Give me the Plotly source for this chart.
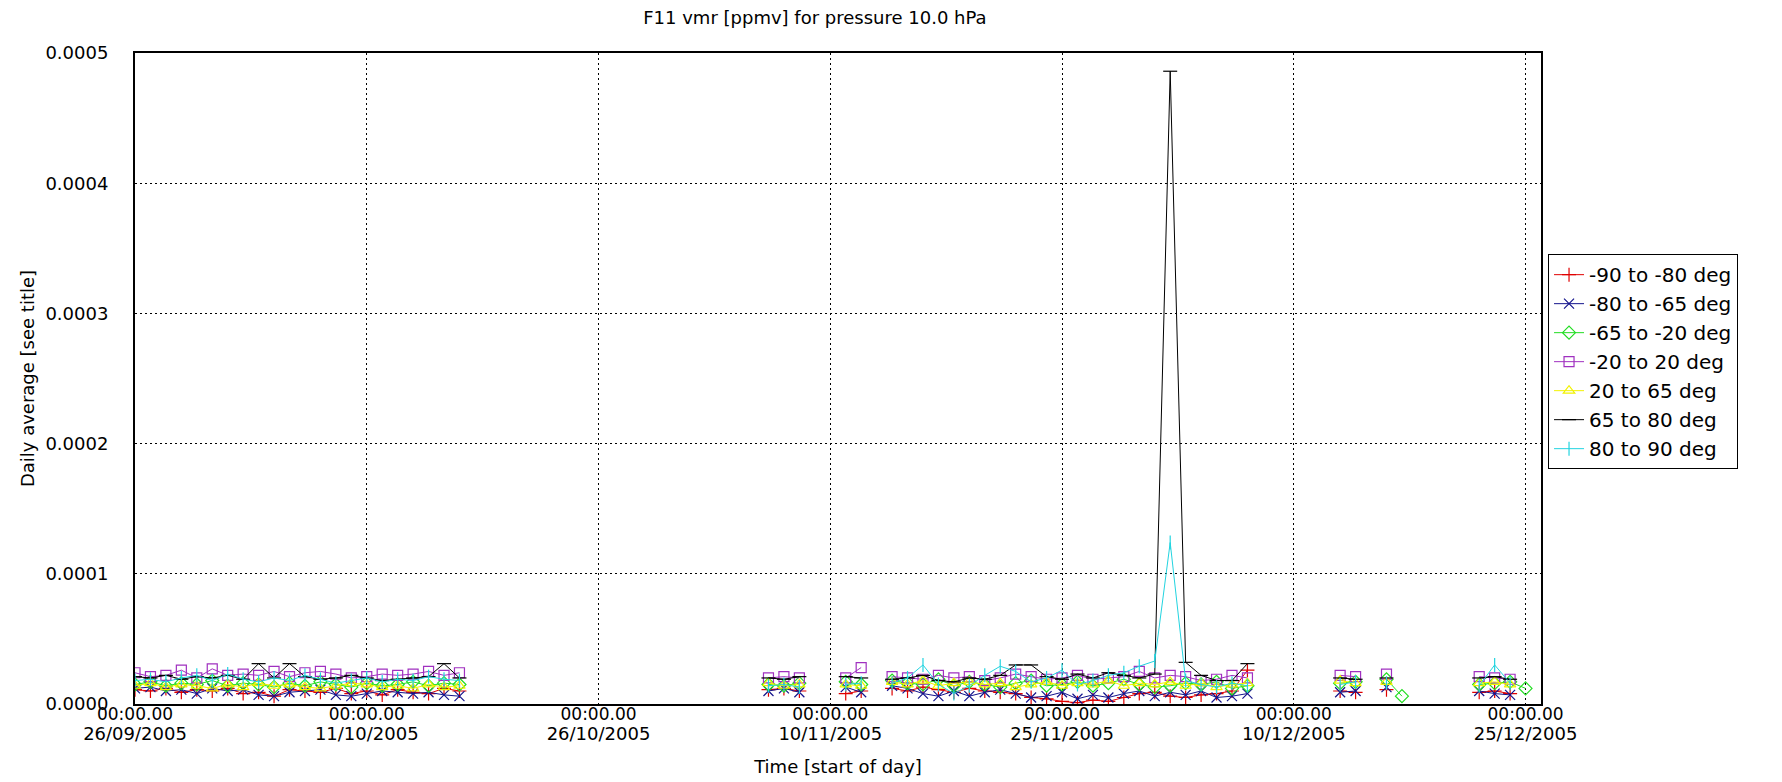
import pandas as pd
import plotly.graph_objects as go

start_day = "2005-09-26"

# days since 26/09/2005; the rows at 30, 44, 48, 75, 80, 85 are breaks (no data)
day_offsets = [0, 1, 2, 3, 4, 5, 6, 7, 8, 9, 10, 11, 12, 13, 14, 15, 16, 17, 18, 19, 20, 21,
               30,
               41, 42, 43,
               44,
               46, 47,
               48,
               49, 50, 51, 52, 53, 54, 55, 56, 57, 58, 59, 60, 61, 62, 63, 64, 65, 66, 67, 68, 69, 70, 71, 72,
               75,
               78, 79,
               80,
               81, 82,
               85,
               87, 88, 89, 90]

# daily averages in units of 1e-5 ppmv
red = [1.1, 1.0, 1.2, 0.9, 1.1, 1.0, 1.2, 0.8, 0.9, 0.6, 1.1, 1.0, 0.9, 1.2, 0.8, 1.0, 0.7, 1.1, 0.9, 0.8, 1.2, 1.0,
       None,
       1.1, 1.2, 1.0,
       None,
       0.8, 1.0,
       None,
       1.2, 1.0, 1.3, 1.1, 0.9, 1.2, 1.0, 0.9, 0.8, 0.5, 0.4, 0.2, 0.1, 0.3, 0.2, 0.5, 0.8, 0.9, 0.6, 0.5, 0.7, 0.8, 1.0, 2.6,
       None,
       1.0, 0.9,
       None,
       1.1, None,
       None,
       0.9, 1.0, 0.8, None]

navy = [1.2, 1.3, 1.0, 1.1, 0.8, 1.2, 1.0, 1.1, 0.7, 0.6, 0.9, 1.0, 1.1, 0.7, 0.6, 0.8, 1.0, 0.9, 0.8, 0.9, 0.7, 0.6,
        None,
        1.0, 1.2, 0.9,
        None,
        1.3, 0.9,
        None,
        1.4, 1.2, 0.8, 0.6, 1.0, 0.6, 0.9, 1.1, 0.8, 0.5, 0.6, 0.9, 0.4, 0.7, 0.5, 0.8, 1.0, 0.6, 0.9, 0.7, 1.0, 0.5, 0.6, 0.8,
        None,
        0.9, 1.0,
        None,
        1.3, None,
        None,
        1.0, 0.8, 0.7, None]

green = [1.5, 1.7, 1.4, 1.6, 1.5, 1.8, 1.4, 1.6, 1.5, 1.3, 1.6, 1.4, 1.7, 1.5, 1.3, 1.6, 1.4, 1.5, 1.7, 1.4, 1.6, 1.5,
         None,
         1.5, 1.4, 1.6,
         None,
         1.7, 1.5,
         None,
         1.8, 1.6, 1.5, 1.9, 1.4, 1.7, 1.5, 1.3, 1.6, 1.8, 1.4, 1.5, 1.7, 1.4, 1.6, 1.9, 1.5, 1.3, 1.4, 1.6, 1.5, 1.7, 1.2, 1.4,
         None,
         1.6, 1.7,
         None,
         1.9, 0.6,
         None,
         1.5, 1.6, 1.7, 1.2]

purple = [2.4, 2.1, 2.2, 2.6, 2.0, 2.7, 2.2, 2.3, 2.2, 2.5, 2.1, 2.4, 2.5, 2.3, 2.0, 2.1, 2.3, 2.2, 2.3, 2.5, 2.2, 2.4,
          None,
          2.0, 2.1, 2.0,
          None,
          2.0, 2.8,
          None,
          2.1, 2.0, 1.9, 2.2, 2.0, 2.1, 1.8, 2.0, 2.3, 2.1, 1.9, 2.0, 2.2, 1.9, 2.0, 2.1, 2.5, 2.0, 2.2, 2.1, 1.8, 1.9, 2.2, 2.0,
          None,
          2.2, 2.1,
          None,
          2.3, None,
          None,
          2.1, 2.0, 1.9, None]

yellow = [1.4, 1.6, 1.3, 1.5, 1.4, 1.2, 1.5, 1.3, 1.6, 1.4, 1.5, 1.3, 1.2, 1.4, 1.6, 1.5, 1.3, 1.4, 1.2, 1.5, 1.3, 1.4,
          None,
          1.6, 1.4, 1.5,
          None,
          1.5, 1.4,
          None,
          1.7, 1.5, 1.8, 1.4, 1.6, 1.7, 1.5, 1.6, 1.3, 1.5, 1.7, 1.4, 1.6, 1.5, 1.8, 1.4, 1.6, 1.5, 1.7, 1.4, 1.6, 1.3, 1.5, 1.6,
          None,
          1.8, 1.6,
          None,
          1.7, None,
          None,
          1.6, 1.7, 1.5, None]

black = [2.1, 2.0, 2.2, 1.9, 2.1, 2.0, 2.2, 1.9, 3.1, 2.0, 3.1, 2.1, 1.9, 2.0, 2.2, 2.0, 1.8, 1.9, 2.0, 2.1, 3.1, 2.0,
         None,
         2.0, 1.9, 2.1,
         None,
         2.1, 2.0,
         None,
         1.9, 2.0, 2.2, 1.8, 1.7, 2.0, 1.9, 2.2, 3.0, 3.0, 2.1, 1.9, 2.3, 2.0, 2.4, 2.2, 2.0, 2.3, 48.6, 3.2, 2.2, 1.8, 1.8, 3.1,
         None,
         2.0, 1.9,
         None,
         2.0, None,
         None,
         2.0, 2.1, 1.9, None]

cyan = [1.8, 1.9, 1.7, 2.0, 2.2, 1.8, 2.3, 1.9, 1.7, 2.0, 1.8, 2.2, 1.9, 1.6, 1.8, 2.0, 1.7, 1.9, 1.8, 2.1, 1.9, 1.8,
        None,
        1.4, 1.5, 1.3,
        None,
        1.5, 1.6,
        None,
        1.6, 2.0, 3.0, 1.5, 0.8, 1.4, 2.2, 2.9, 2.5, 1.7, 2.0, 2.6, 1.5, 1.8, 2.2, 2.4, 2.9, 3.3, 12.4, 1.8, 1.5, 1.3, 1.6, 1.4,
        None,
        1.5, 1.7,
        None,
        1.6, None,
        None,
        1.4, 3.0, 1.6, None]

series_names = ["-90 to -80 deg", "-80 to -65 deg", "-65 to -20 deg", "-20 to 20 deg",
                "20 to 65 deg", "65 to 80 deg", "80 to 90 deg"]
series_values = [red, navy, green, purple, yellow, black, cyan]
series_colors = ["#e00000", "#14148c", "#22dd22", "#a030c0", "#f2f200", "#000000", "#22d4e0"]
series_symbols = ["cross-thin-open", "x-thin-open", "diamond-open", "square-open",
                  "triangle-up-open", "line-ew-open", "line-ns-open"]

tick_dates = ["2005-09-26", "2005-10-11", "2005-10-26", "2005-11-10",
              "2005-11-25", "2005-12-10", "2005-12-25"]
tick_date_labels = ["26/09/2005", "11/10/2005", "26/10/2005", "10/11/2005",
                    "25/11/2005", "10/12/2005", "25/12/2005"]
tick_time_labels = ["00:00.00"] * len(tick_dates)

dates = pd.to_datetime(start_day) + pd.to_timedelta(day_offsets, unit="D")
unit = 1e-5

fig = go.Figure()
for i, (name, vals) in enumerate(zip(series_names, series_values)):
    y = [v * unit if v is not None else None for v in vals]
    fig.add_trace(go.Scatter(
        x=dates, y=y, name=name, mode="lines+markers",
        line=dict(color=series_colors[i], width=1),
        marker=dict(symbol=series_symbols[i], size=10, color=series_colors[i],
                    line=dict(color=series_colors[i], width=1.2)),
    ))

# empty trace so the second (date label) x axis gets drawn
fig.add_trace(go.Scatter(x=tick_dates, y=[None] * len(tick_dates), xaxis="x2",
                         showlegend=False, hoverinfo="skip", mode="lines"))

font = "DejaVu Sans"
grid = dict(showgrid=True, gridcolor="black", gridwidth=1, griddash="2px,3px")

fig.update_layout(
    width=1782, height=782,
    paper_bgcolor="white", plot_bgcolor="white",
    font=dict(family=font, size=18, color="black"),
    margin=dict(l=127, r=249, t=45, b=86),
    title=dict(text="F11 vmr [ppmv] for pressure 10.0 hPa", x=0.4528, xanchor="center",
               y=0.988, yanchor="middle", font=dict(size=18)),
    xaxis=dict(type="date", range=["2005-09-26", "2005-12-26"],
               tickvals=tick_dates, ticktext=tick_time_labels, ticks="",
               ticklabelstandoff=-6, tickfont=dict(size=17),
               showline=True, mirror=True, linecolor="black", linewidth=2,
               zeroline=False, **grid),
    xaxis2=dict(type="date", range=["2005-09-26", "2005-12-26"], overlaying="x",
                anchor="y", side="bottom",
                tickvals=tick_dates, ticktext=tick_date_labels, ticks="",
                ticklabelstandoff=17, tickfont=dict(size=18), showgrid=False,
                showline=False, zeroline=False,
                title=dict(text="Time [start of day]", standoff=17, font=dict(size=18))),
    yaxis=dict(range=[0, 0.0005], dtick=0.0001, tickformat=".4f", ticks="",
               ticklabelstandoff=21, showline=True, mirror=True, linecolor="black",
               linewidth=2, zeroline=False,
               title=dict(text="Daily average [see title]", standoff=6, font=dict(size=18)),
               **grid),
    legend=dict(x=1.005, xanchor="left", y=0.691, yanchor="top",
                bordercolor="black", borderwidth=1, bgcolor="white",
                font=dict(size=20), itemwidth=30),
    showlegend=True,
)

fig.write_html("out.html")
